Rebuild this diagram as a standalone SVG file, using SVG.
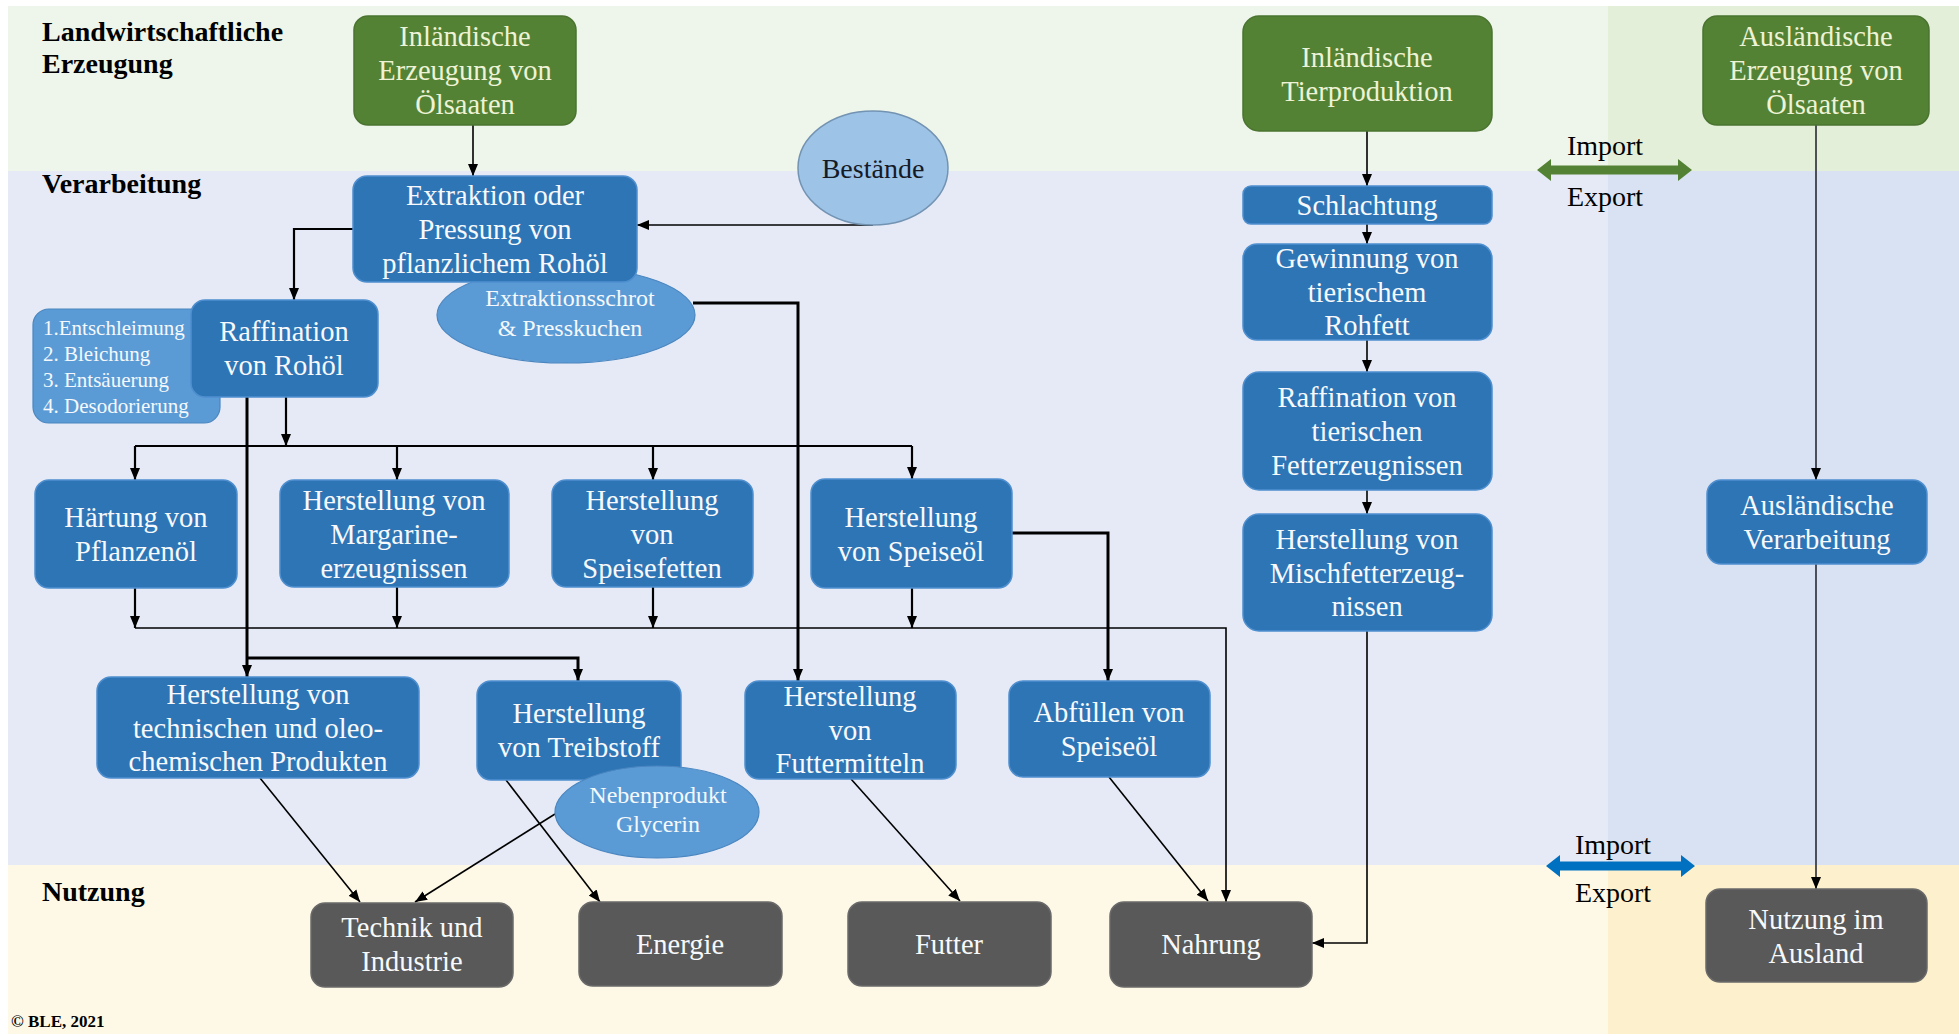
<svg xmlns="http://www.w3.org/2000/svg" width="1959" height="1036" viewBox="0 0 1959 1036">
<defs>
<marker id="ah" viewBox="0 0 12 12" refX="12" refY="6" markerWidth="12" markerHeight="12" markerUnits="userSpaceOnUse" orient="auto">
<path d="M0,1 L12,6 L0,11 z" fill="#000"/>
</marker>
<style>
text{font-family:"Liberation Serif","Times New Roman",serif;}
.hdr{font-size:28px;font-weight:bold;fill:#000;}
.gb{fill:#548235;stroke:#4a7430;stroke-width:1.5;}
.bb{fill:#2e75b6;stroke:#4f8fcf;stroke-width:1.5;}
.lb{fill:#5b9bd5;stroke:#4a86c0;stroke-width:1.2;}
.db{fill:#595959;stroke:#6a6a6a;stroke-width:1.5;}
.gt{font-size:28.5px;fill:#eef3d6;text-anchor:middle;}
.wt{font-size:28.5px;fill:#f7f9fc;text-anchor:middle;}
.st{font-size:24px;fill:#f5f8fc;text-anchor:middle;}
.sl{font-size:21px;fill:#f5f8fc;}
.ie{font-size:28px;fill:#000;text-anchor:middle;}
.thin{fill:none;stroke:#000;stroke-width:1.6;}
.mid{fill:none;stroke:#000;stroke-width:2.2;}
.thick{fill:none;stroke:#000;stroke-width:3;}
.gr{fill:none;stroke:#2a2a33;stroke-width:1.6;}
</style>
</defs>
<rect x="0" y="0" width="1959" height="1036" fill="#ffffff"/>
<g id="background">
<rect x="8" y="6" width="1600" height="165" fill="#eef5ea"/>
<rect x="1608" y="6" width="1344" height="165" fill="#e3efd9"/>
<rect x="8" y="171" width="1600" height="694" fill="#e5eaf6"/>
<rect x="1608" y="171" width="1344" height="694" fill="#d9e2f2"/>
<rect x="8" y="865" width="1600" height="169" fill="#fef9e7"/>
<rect x="1608" y="865" width="1344" height="169" fill="#fdf0cc"/>
</g>
<g id="labels">
<text class="hdr" x="42" y="41">Landwirtschaftliche</text>
<text class="hdr" x="42" y="73">Erzeugung</text>
<text class="hdr" x="42" y="193">Verarbeitung</text>
<text class="hdr" x="42" y="901">Nutzung</text>
<text x="11" y="1027" style="font-size:17px;font-weight:bold;fill:#000">© BLE, 2021</text>
</g>
<g id="connectors">
<path class="thin" d="M473,125 V176" marker-end="url(#ah)"/>
<path class="thin" d="M873,225 H637" marker-end="url(#ah)"/>
<path class="mid" d="M353,229 H294 V300" marker-end="url(#ah)"/>
<path class="thick" d="M693,303 H798 V681" marker-end="url(#ah)"/>
<path class="mid" d="M286,397 V446" marker-end="url(#ah)"/>
<path class="mid" d="M135,446 H912"/>
<path class="mid" d="M135,446 V480" marker-end="url(#ah)"/>
<path class="mid" d="M397,446 V480" marker-end="url(#ah)"/>
<path class="mid" d="M653,446 V480" marker-end="url(#ah)"/>
<path class="mid" d="M912,446 V479" marker-end="url(#ah)"/>
<path class="thick" d="M247,397 V677" marker-end="url(#ah)"/>
<path class="thick" d="M247,658 H578 V681" marker-end="url(#ah)"/>
<path class="mid" d="M135,588 V628" marker-end="url(#ah)"/>
<path class="mid" d="M397,587 V628" marker-end="url(#ah)"/>
<path class="mid" d="M653,587 V628" marker-end="url(#ah)"/>
<path class="mid" d="M912,588 V628" marker-end="url(#ah)"/>
<path class="thin" d="M135,628 H1226 V902" marker-end="url(#ah)"/>
<path class="thick" d="M1012,533 H1108 V681" marker-end="url(#ah)"/>
<path class="thin" d="M260,778 L360,902" marker-end="url(#ah)"/>
<path class="thin" d="M555,814 L415,902" marker-end="url(#ah)"/>
<path class="thin" d="M506,780 L600,902" marker-end="url(#ah)"/>
<path class="thin" d="M851,779 L960,901" marker-end="url(#ah)"/>
<path class="thin" d="M1109,777 L1208,901" marker-end="url(#ah)"/>
<path class="thin" d="M1367,131 V186" marker-end="url(#ah)"/>
<path class="thin" d="M1367,224 V244" marker-end="url(#ah)"/>
<path class="thin" d="M1367,340 V372" marker-end="url(#ah)"/>
<path class="thin" d="M1367,490 V514" marker-end="url(#ah)"/>
<path class="thin" d="M1367,631 V943 H1312" marker-end="url(#ah)"/>
<path class="gr" d="M1816,125 V480" marker-end="url(#ah)"/>
<path class="gr" d="M1816,564 V889" marker-end="url(#ah)"/>
</g>
<g id="trade-top">
<polygon points="1537,170 1551,159 1551,165.5 1678,165.5 1678,159 1692,170 1678,181 1678,174.5 1551,174.5 1551,181" fill="#548235"/>
<text class="ie" x="1605" y="155">Import</text>
<text class="ie" x="1605" y="206">Export</text>
</g>
<g id="trade-bottom">
<polygon points="1546,866 1560,855 1560,861.5 1681,861.5 1681,855 1695,866 1681,877 1681,870.5 1560,870.5 1560,877" fill="#0070c0"/>
<text class="ie" x="1613" y="854">Import</text>
<text class="ie" x="1613" y="902">Export</text>
</g>
<g id="n-inl-oelsaaten">
<rect class="gb" x="354" y="16" width="222" height="109" rx="14"/>
<text class="gt" x="465" y="46">Inländische</text>
<text class="gt" x="465" y="80">Erzeugung von</text>
<text class="gt" x="465" y="114">Ölsaaten</text>
</g>
<g id="n-tierproduktion">
<rect class="gb" x="1243" y="16" width="249" height="115" rx="16"/>
<text class="gt" x="1367" y="67">Inländische</text>
<text class="gt" x="1367" y="101">Tierproduktion</text>
</g>
<g id="n-ausl-oelsaaten">
<rect class="gb" x="1703" y="16" width="226" height="109" rx="14"/>
<text class="gt" x="1816" y="46">Ausländische</text>
<text class="gt" x="1816" y="80">Erzeugung von</text>
<text class="gt" x="1816" y="114">Ölsaaten</text>
</g>
<g id="n-bestaende">
<ellipse cx="873" cy="168" rx="75" ry="57" fill="#9dc3e6" stroke="#7393b3" stroke-width="1.5"/>
<text x="873" y="178" style="font-size:28px;fill:#141a26;text-anchor:middle">Bestände</text>
</g>
<g id="n-schrot">
<ellipse class="lb" cx="566" cy="315" rx="129" ry="48"/>
<text class="st" x="570" y="306">Extraktionsschrot</text>
<text class="st" x="570" y="336">&amp; Presskuchen</text>
</g>
<g id="n-extraktion">
<rect class="bb" x="353" y="176" width="284" height="106" rx="14"/>
<text class="wt" x="495" y="205">Extraktion oder</text>
<text class="wt" x="495" y="239">Pressung von</text>
<text class="wt" x="495" y="273">pflanzlichem Rohöl</text>
</g>
<g id="n-schritte">
<rect class="lb" x="33" y="309" width="187" height="114" rx="16"/>
<text class="sl" x="43" y="335">1.Entschleimung</text>
<text class="sl" x="43" y="361">2. Bleichung</text>
<text class="sl" x="43" y="387">3. Entsäuerung</text>
<text class="sl" x="43" y="413">4. Desodorierung</text>
</g>
<g id="n-raffination">
<rect class="bb" x="191" y="300" width="187" height="97" rx="14"/>
<text class="wt" x="284" y="341">Raffination</text>
<text class="wt" x="284" y="375">von Rohöl</text>
</g>
<g id="n-haertung">
<rect class="bb" x="35" y="480" width="202" height="108" rx="14"/>
<text class="wt" x="136" y="527">Härtung von</text>
<text class="wt" x="136" y="561">Pflanzenöl</text>
</g>
<g id="n-margarine">
<rect class="bb" x="280" y="480" width="229" height="107" rx="14"/>
<text class="wt" x="394" y="510">Herstellung von</text>
<text class="wt" x="394" y="544">Margarine-</text>
<text class="wt" x="394" y="578">erzeugnissen</text>
</g>
<g id="n-speisefetten">
<rect class="bb" x="552" y="480" width="201" height="107" rx="14"/>
<text class="wt" x="652" y="510">Herstellung</text>
<text class="wt" x="652" y="544">von</text>
<text class="wt" x="652" y="578">Speisefetten</text>
</g>
<g id="n-speiseoel">
<rect class="bb" x="811" y="479" width="201" height="109" rx="14"/>
<text class="wt" x="911" y="527">Herstellung</text>
<text class="wt" x="911" y="561">von Speiseöl</text>
</g>
<g id="n-technisch">
<rect class="bb" x="97" y="677" width="322" height="101" rx="14"/>
<text class="wt" x="258" y="704">Herstellung von</text>
<text class="wt" x="258" y="738">technischen und oleo-</text>
<text class="wt" x="258" y="771">chemischen Produkten</text>
</g>
<g id="n-treibstoff">
<rect class="bb" x="477" y="681" width="204" height="99" rx="14"/>
<text class="wt" x="579" y="723">Herstellung</text>
<text class="wt" x="579" y="757">von Treibstoff</text>
</g>
<g id="n-glycerin">
<ellipse class="lb" cx="657" cy="812" rx="102" ry="46"/>
<text class="st" x="658" y="803">Nebenprodukt</text>
<text class="st" x="658" y="832">Glycerin</text>
</g>
<g id="n-futtermittel">
<rect class="bb" x="745" y="681" width="211" height="98" rx="14"/>
<text class="wt" x="850" y="706">Herstellung</text>
<text class="wt" x="850" y="740">von</text>
<text class="wt" x="850" y="773">Futtermitteln</text>
</g>
<g id="n-abfuellen">
<rect class="bb" x="1009" y="681" width="201" height="96" rx="14"/>
<text class="wt" x="1109" y="722">Abfüllen von</text>
<text class="wt" x="1109" y="756">Speiseöl</text>
</g>
<g id="n-schlachtung">
<rect class="bb" x="1243" y="186" width="249" height="38" rx="8"/>
<text class="wt" x="1367" y="215">Schlachtung</text>
</g>
<g id="n-gewinnung">
<rect class="bb" x="1243" y="244" width="249" height="96" rx="14"/>
<text class="wt" x="1367" y="268">Gewinnung von</text>
<text class="wt" x="1367" y="302">tierischem</text>
<text class="wt" x="1367" y="335">Rohfett</text>
</g>
<g id="n-raff-tier">
<rect class="bb" x="1243" y="372" width="249" height="118" rx="16"/>
<text class="wt" x="1367" y="407">Raffination von</text>
<text class="wt" x="1367" y="441">tierischen</text>
<text class="wt" x="1367" y="475">Fetterzeugnissen</text>
</g>
<g id="n-mischfett">
<rect class="bb" x="1243" y="514" width="249" height="117" rx="16"/>
<text class="wt" x="1367" y="549">Herstellung von</text>
<text class="wt" x="1367" y="583">Mischfetterzeug-</text>
<text class="wt" x="1367" y="616">nissen</text>
</g>
<g id="n-ausl-verarbeitung">
<rect class="bb" x="1707" y="480" width="220" height="84" rx="14"/>
<text class="wt" x="1817" y="515">Ausländische</text>
<text class="wt" x="1817" y="549">Verarbeitung</text>
</g>
<g id="n-technik">
<rect class="db" x="311" y="903" width="202" height="84" rx="14"/>
<text class="wt" x="412" y="937">Technik und</text>
<text class="wt" x="412" y="971">Industrie</text>
</g>
<g id="n-energie">
<rect class="db" x="579" y="902" width="203" height="84" rx="14"/>
<text class="wt" x="680" y="954">Energie</text>
</g>
<g id="n-futter">
<rect class="db" x="848" y="902" width="203" height="84" rx="14"/>
<text class="wt" x="949" y="954">Futter</text>
</g>
<g id="n-nahrung">
<rect class="db" x="1110" y="902" width="202" height="85" rx="14"/>
<text class="wt" x="1211" y="954">Nahrung</text>
</g>
<g id="n-nutzung-ausland">
<rect class="db" x="1706" y="889" width="221" height="93" rx="14"/>
<text class="wt" x="1816" y="929">Nutzung im</text>
<text class="wt" x="1816" y="963">Ausland</text>
</g>
</svg>
